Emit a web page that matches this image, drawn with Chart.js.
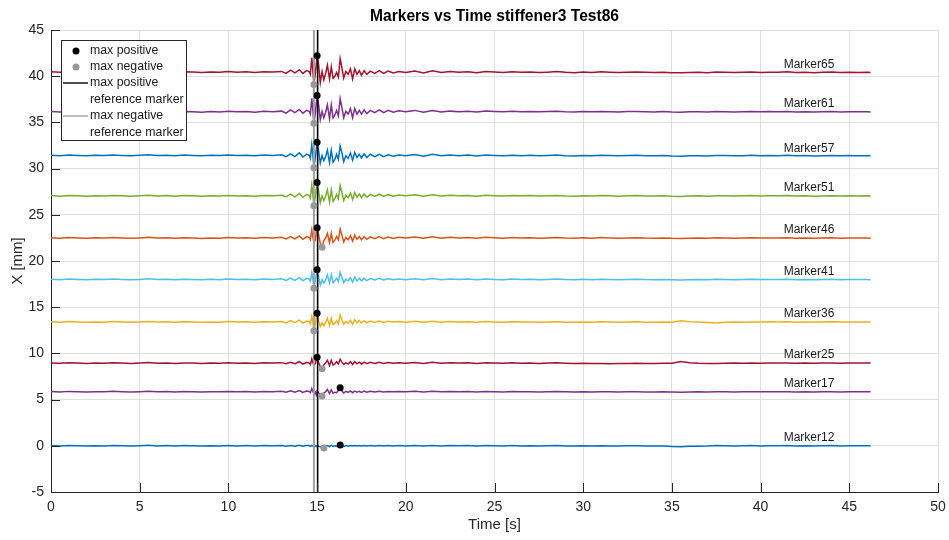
<!DOCTYPE html>
<html>
<head>
<meta charset="utf-8">
<title>Markers vs Time stiffener3 Test86</title>
<script src="https://cdn.jsdelivr.net/npm/chart.js@4.4.1/dist/chart.umd.min.js"></script>
<style>
  html, body { margin: 0; padding: 0; background: #fff; }
</style>
</head>
<body>
<canvas id="markerChart" width="949" height="540"></canvas>
<script>
// time axis (s), shared by every marker trace
const times = [
  0, 0.5, 1, 1.5, 2, 2.5, 3, 3.5, 4, 4.5, 5, 5.5, 6, 6.5,
  7, 7.5, 8, 8.5, 9, 9.5, 10, 10.5, 11, 11.5, 12, 12.5, 13,
  13.25, 13.5, 13.75, 14, 14.2, 14.4,
  14.55, 14.62, 14.7, 14.76, 14.82, 14.9, 14.95, 15.0, 15.08, 15.18,
  15.28, 15.38, 15.48, 15.58, 15.7, 15.8, 15.9, 16.0, 16.1, 16.2,
  16.3, 16.4, 16.5, 16.62, 16.75, 16.88, 17.0, 17.12, 17.25, 17.38,
  17.5, 17.65, 17.8, 18.0, 18.25, 18.5, 18.75, 19.0, 19.3, 19.6,
  20, 20.5, 21, 21.5, 22, 22.5, 23, 23.5, 24, 24.5, 25, 25.5, 26, 26.5,
  27, 27.5, 28, 28.5, 29, 29.5, 30, 30.5, 31, 31.5, 32, 32.5, 33, 33.5,
  34, 34.5, 35, 35.5, 36, 36.5, 37, 37.5, 38, 38.5, 39, 39.5, 40, 40.5,
  41, 41.5, 42, 42.5, 43, 43.5, 44, 44.5, 45, 45.5, 46, 46.2
];

// X displacement [mm] per marker
const marker65 = [
  40.48, 40.42, 40.5, 40.44, 40.4, 40.47, 40.43, 40.5, 40.45, 40.41, 40.46, 40.52, 40.44, 40.47,
  40.42, 40.48, 40.45, 40.4, 40.46, 40.43, 40.5, 40.44, 40.47, 40.41, 40.49, 40.45, 40.52,
  40.3, 40.65, 40.35, 40.7, 40.3, 40.6,
  40.5, 40.2, 42.0, 40.6, 39.1, 40.3, 41.2, 42.2, 41.3, 39.3,
  40.5, 39.6, 40.3, 41.2, 39.7, 41.0, 39.8, 40.0, 40.4, 39.9,
  41.9, 40.9, 39.8, 40.5, 40.2, 40.8, 39.7, 40.8, 40.2, 40.6,
  40.1, 40.6, 40.2, 40.55, 40.3, 40.6, 40.3, 40.55, 40.35, 40.5,
  40.4, 40.55, 40.35, 40.6, 40.4, 40.5, 40.42, 40.48, 40.38, 40.5, 40.45, 40.4, 40.48, 40.43,
  40.46, 40.4, 40.44, 40.5, 40.42, 40.38, 40.45, 40.41, 40.47, 40.43, 40.4, 40.44, 40.46, 40.42,
  40.4, 40.44, 40.38, 40.36, 40.4, 40.42, 40.38, 40.45, 40.43, 40.4, 40.42, 40.46, 40.41, 40.44,
  40.42, 40.47, 40.4, 40.43, 40.38, 40.42, 40.45, 40.4, 40.43, 40.41, 40.42, 40.4
];
const marker61 = [
  36.18, 36.12, 36.2, 36.15, 36.1, 36.17, 36.13, 36.2, 36.16, 36.11, 36.15, 36.21, 36.14, 36.18,
  36.12, 36.19, 36.15, 36.1, 36.17, 36.13, 36.2, 36.14, 36.18, 36.11, 36.2, 36.16, 36.22,
  36.0, 36.35, 36.05, 36.4, 36.0, 36.3,
  36.2, 35.9, 37.6, 36.3, 34.9, 36.0, 37.0, 37.9, 37.0, 35.3,
  36.2, 35.5, 36.1, 36.9, 35.4, 36.9, 35.5, 35.8, 36.3, 35.7,
  37.55, 36.6, 35.5, 36.2, 35.9, 36.5, 35.5, 36.5, 35.9, 36.3,
  35.9, 36.35, 35.95, 36.3, 36.05, 36.35, 36.05, 36.3, 36.1, 36.25,
  36.15, 36.3, 36.1, 36.28, 36.12, 36.22, 36.16, 36.2, 36.12, 36.24, 36.18, 36.14, 36.2, 36.16,
  36.18, 36.14, 36.17, 36.21, 36.15, 36.12, 36.18, 36.14, 36.19, 36.15, 36.13, 36.17, 36.19, 36.15,
  36.13, 36.17, 36.12, 36.1, 36.14, 36.16, 36.12, 36.18, 36.15, 36.13, 36.15, 36.19, 36.14, 36.17,
  36.15, 36.19, 36.13, 36.16, 36.12, 36.15, 36.18, 36.13, 36.16, 36.14, 36.15, 36.13
];
const marker57 = [
  31.45, 31.4, 31.48, 31.42, 31.38, 31.45, 31.41, 31.47, 31.43, 31.38, 31.44, 31.5, 31.41, 31.45,
  31.4, 31.46, 31.43, 31.38, 31.44, 31.41, 31.48, 31.42, 31.45, 31.39, 31.47, 31.43, 31.5,
  31.3, 31.6, 31.3, 31.7, 31.25, 31.55,
  31.45, 31.1, 32.55, 31.5, 30.1, 31.2, 32.0, 32.85, 32.0, 30.6,
  31.4, 30.85, 31.3, 32.0, 30.65, 32.0, 30.7, 31.0, 31.55, 31.0,
  32.45, 31.7, 30.75, 31.4, 31.1, 31.7, 30.9, 31.75, 31.2, 31.55,
  31.15, 31.6, 31.2, 31.55, 31.3, 31.55, 31.3, 31.5, 31.35, 31.48,
  31.38, 31.52, 31.35, 31.55, 31.38, 31.48, 31.4, 31.46, 31.36, 31.48, 31.42, 31.38, 31.45, 31.4,
  31.44, 31.38, 31.42, 31.47, 31.4, 31.36, 31.43, 31.39, 31.45, 31.41, 31.38, 31.42, 31.44, 31.4,
  31.38, 31.42, 31.36, 31.34, 31.38, 31.4, 31.37, 31.43, 31.41, 31.38, 31.4, 31.44, 31.39, 31.42,
  31.4, 31.44, 31.38, 31.41, 31.36, 31.4, 31.43, 31.38, 31.41, 31.39, 31.4, 31.38
];
const marker51 = [
  27.08, 27.02, 27.1, 27.05, 27.0, 27.07, 27.03, 27.1, 27.06, 27.01, 27.05, 27.11, 27.04, 27.08,
  27.02, 27.08, 27.05, 27.0, 27.06, 27.03, 27.1, 27.04, 27.07, 27.01, 27.09, 27.05, 27.12,
  26.95, 27.25, 26.95, 27.3, 26.9, 27.2,
  27.1, 26.8, 28.2, 27.2, 25.98, 26.9, 27.7, 28.5, 27.7, 26.3,
  27.05, 26.55, 27.0, 27.7, 26.4, 27.7, 26.45, 26.75, 27.2, 26.75,
  28.15, 27.4, 26.55, 27.1, 26.85, 27.35, 26.65, 27.4, 26.9, 27.25,
  26.85, 27.25, 26.9, 27.2, 27.0, 27.25, 26.98, 27.18, 27.02, 27.15,
  27.05, 27.16, 27.02, 27.18, 27.04, 27.12, 27.06, 27.1, 27.02, 27.12, 27.07, 27.03, 27.1, 27.05,
  27.08, 27.03, 27.06, 27.1, 27.04, 27.01, 27.07, 27.03, 27.08, 27.05, 27.02, 27.06, 27.08, 27.04,
  27.03, 27.06, 27.01, 26.99, 27.03, 27.05, 27.02, 27.07, 27.05, 27.03, 27.05, 27.08, 27.04, 27.06,
  27.05, 27.08, 27.03, 27.05, 27.01, 27.04, 27.07, 27.03, 27.05, 27.04, 27.05, 27.03
];
const marker46 = [
  22.52, 22.47, 22.54, 22.49, 22.45, 22.51, 22.48, 22.55, 22.5, 22.46, 22.5, 22.56, 22.48, 22.52,
  22.46, 22.52, 22.49, 22.44, 22.5, 22.47, 22.54, 22.48, 22.51, 22.45, 22.53, 22.49, 22.56,
  22.38, 22.65, 22.4, 22.7, 22.35, 22.62,
  22.55, 22.3, 23.35, 22.6, 21.95, 22.3, 23.1, 23.6, 22.9, 21.9,
  21.5, 22.2, 22.5, 23.0, 22.0, 23.0, 22.0, 22.25, 22.65, 22.3,
  23.46, 22.8, 22.05, 22.55, 22.3, 22.75, 22.15, 22.8, 22.35, 22.65,
  22.3, 22.65, 22.35, 22.62, 22.42, 22.65, 22.42, 22.6, 22.45, 22.58,
  22.48, 22.6, 22.45, 22.62, 22.47, 22.56, 22.5, 22.54, 22.46, 22.56, 22.51, 22.47, 22.54, 22.49,
  22.52, 22.47, 22.5, 22.55, 22.48, 22.45, 22.51, 22.47, 22.53, 22.49, 22.46, 22.5, 22.52, 22.48,
  22.47, 22.5, 22.45, 22.43, 22.47, 22.49, 22.46, 22.51, 22.49, 22.47, 22.49, 22.52, 22.48, 22.5,
  22.49, 22.52, 22.47, 22.5, 22.45, 22.48, 22.51, 22.47, 22.49, 22.48, 22.49, 22.47
];
const marker41 = [
  18.03, 17.98, 18.05, 18.0, 17.96, 18.02, 17.99, 18.06, 18.01, 17.97, 18.01, 18.07, 17.99, 18.03,
  17.98, 18.03, 18.0, 17.96, 18.02, 17.98, 18.05, 17.99, 18.02, 17.97, 18.04, 18.0, 18.07,
  17.9, 18.15, 17.9, 18.2, 17.85, 18.12,
  18.05, 17.8, 18.7, 18.1, 17.05, 17.85, 18.5, 19.06, 18.3, 17.4,
  17.95, 17.6, 17.95, 18.5, 17.6, 18.5, 17.65, 17.85, 18.15, 17.8,
  18.77, 18.25, 17.65, 18.05, 17.85, 18.2, 17.7, 18.25, 17.85, 18.15,
  17.85, 18.12, 17.88, 18.1, 17.95, 18.12, 17.95, 18.08, 17.98, 18.06,
  17.98, 18.08, 17.96, 18.1, 17.98, 18.05, 18.0, 18.04, 17.97, 18.05, 18.01, 17.98, 18.04, 18.0,
  18.02, 17.98, 18.01, 18.05, 17.99, 17.96, 18.02, 17.98, 18.03, 18.0, 17.97, 18.01, 18.03, 17.99,
  17.98, 18.01, 17.97, 17.95, 17.98, 18.0, 17.97, 18.02, 18.0, 17.98, 18.0, 18.03, 17.99, 18.01,
  18.0, 18.03, 17.98, 18.0, 17.96, 17.99, 18.02, 17.98, 18.0, 17.99, 18.0, 17.98
];
const marker36 = [
  13.42, 13.38, 13.44, 13.4, 13.36, 13.41, 13.38, 13.45, 13.4, 13.37, 13.41, 13.46, 13.39, 13.42,
  13.37, 13.42, 13.4, 13.36, 13.41, 13.38, 13.44, 13.39, 13.42, 13.37, 13.43, 13.4, 13.46,
  13.3, 13.55, 13.32, 13.6, 13.28, 13.5,
  13.45, 13.2, 14.0, 13.5, 12.46, 13.2, 13.85, 14.34, 13.6, 12.9,
  13.3, 13.0, 13.35, 13.8, 13.0, 13.8, 13.1, 13.25, 13.55, 13.2,
  14.15, 13.65, 13.15, 13.45, 13.25, 13.6, 13.15, 13.65, 13.3, 13.55,
  13.3, 13.52, 13.32, 13.5, 13.36, 13.5, 13.37, 13.47, 13.39, 13.46,
  13.38, 13.47, 13.36, 13.48, 13.38, 13.45, 13.4, 13.43, 13.37, 13.44, 13.4, 13.38, 13.43, 13.39,
  13.41, 13.37, 13.4, 13.43, 13.38, 13.36, 13.41, 13.38, 13.42, 13.39, 13.37, 13.4, 13.42, 13.38,
  13.37, 13.4, 13.38, 13.52, 13.42, 13.39, 13.35, 13.3, 13.37, 13.4, 13.38, 13.41, 13.39, 13.42,
  13.4, 13.42, 13.38, 13.41, 13.39, 13.4, 13.42, 13.39, 13.41, 13.4, 13.41, 13.4
];
const marker25 = [
  8.97, 8.93, 8.99, 8.95, 8.91, 8.96, 8.93, 9.0, 8.95, 8.92, 8.96, 9.01, 8.94, 8.97,
  8.92, 8.97, 8.95, 8.91, 8.96, 8.93, 8.99, 8.94, 8.97, 8.92, 8.98, 8.95, 9.0,
  8.88, 9.05, 8.88, 9.1, 8.85, 9.02,
  8.98, 8.8, 9.4, 9.0, 8.75, 8.9, 9.3, 9.58, 9.0, 8.6,
  8.34, 8.75, 8.95, 9.25, 8.7, 9.25, 8.75, 8.85, 9.1, 8.85,
  9.36, 9.05, 8.8, 9.0, 8.85, 9.1, 8.8, 9.1, 8.88, 9.05,
  8.85, 9.05, 8.88, 9.04, 8.9, 9.05, 8.92, 9.02, 8.93, 9.0,
  8.93, 9.02, 8.92, 9.03, 8.93, 8.99, 8.95, 8.98, 8.92, 8.99, 8.95, 8.93, 8.98, 8.94,
  8.96, 8.92, 8.95, 8.98, 8.93, 8.9, 8.94, 8.9, 8.92, 8.89, 8.9, 8.92, 8.94, 8.91,
  8.92, 8.94, 8.93, 9.12, 8.98, 8.93, 8.92, 8.9, 8.93, 8.95, 8.94, 8.96, 8.94, 8.97,
  8.95, 8.97, 8.94, 8.96, 8.93, 8.95, 8.97, 8.94, 8.96, 8.95, 8.96, 8.95
];
const marker17 = [
  5.87, 5.83, 5.89, 5.85, 5.82, 5.86, 5.84, 5.9, 5.86, 5.82, 5.86, 5.91, 5.84, 5.87,
  5.83, 5.88, 5.85, 5.82, 5.86, 5.84, 5.89, 5.85, 5.87, 5.83, 5.88, 5.85, 5.9,
  5.8, 5.95, 5.8, 5.98, 5.78, 5.92,
  5.88, 5.75, 6.2, 5.9, 5.6, 5.8, 5.5, 5.9, 5.75, 5.55,
  5.39, 5.7, 5.85, 6.1, 5.65, 6.05, 5.7, 5.8, 5.75, 6.0,
  6.29, 5.95, 5.7, 5.9, 5.78, 5.95, 5.75, 5.92, 5.8, 5.9,
  5.78, 5.92, 5.8, 5.9, 5.82, 5.9, 5.83, 5.88, 5.84, 5.88,
  5.84, 5.9, 5.83, 5.91, 5.84, 5.88, 5.85, 5.87, 5.83, 5.88, 5.85, 5.83, 5.87, 5.84,
  5.86, 5.83, 5.85, 5.88, 5.84, 5.81, 5.85, 5.82, 5.86, 5.84, 5.82, 5.85, 5.86, 5.83,
  5.83, 5.85, 5.82, 5.8, 5.83, 5.85, 5.83, 5.86, 5.84, 5.83, 5.84, 5.86, 5.84, 5.85,
  5.84, 5.86, 5.83, 5.85, 5.82, 5.84, 5.86, 5.83, 5.85, 5.84, 5.85, 5.84
];
const marker12 = [
  0.02, -0.02, 0.03, 0.0, -0.03, 0.01, -0.01, 0.04, 0.0, -0.03, 0.01, 0.05, -0.01, 0.02,
  -0.02, 0.02, 0.0, -0.03, 0.01, -0.01, 0.03, -0.01, 0.02, -0.03, 0.03, 0.0, 0.04,
  -0.05, 0.04, -0.04, 0.05, -0.05, 0.03,
  0.02, -0.06, 0.05, -0.02, -0.08, 0.0, -0.05, 0.03, -0.04, -0.1,
  -0.15, -0.25, -0.12, 0.02, -0.08, 0.04, -0.06, 0.0, -0.04, 0.03,
  0.08, -0.02, -0.06, 0.02, -0.04, 0.03, -0.03, 0.02, -0.02, 0.03,
  -0.03, 0.02, -0.02, 0.03, -0.01, 0.02, -0.02, 0.02, -0.01, 0.02,
  -0.01, 0.03, -0.02, 0.03, -0.01, 0.02, 0.0, 0.02, -0.02, 0.02, 0.0, -0.02, 0.02, -0.01,
  0.01, -0.02, 0.0, 0.02, -0.01, -0.03, 0.0, -0.02, 0.01, -0.01, -0.03, 0.0, 0.01, -0.02,
  -0.03, -0.01, -0.08, -0.1, -0.06, -0.04, -0.02, 0.03, 0.0, -0.02, 0.0, 0.02, -0.01, 0.01,
  0.0, 0.02, -0.01, 0.01, -0.02, 0.0, 0.02, -0.01, 0.01, 0.0, 0.01, 0.0
];

const markerNames = ["Marker12", "Marker17", "Marker25", "Marker36", "Marker41",
                     "Marker46", "Marker51", "Marker57", "Marker61", "Marker65"];

// max positive / max negative points, same order as markerNames
const maxPosTime = [16.3, 16.3, 15.0, 15.0, 15.0, 15.0, 15.0, 15.0, 15.0, 15.0];
const maxPosVal  = [0.08, 6.29, 9.58, 14.34, 19.06, 23.6, 28.5, 32.85, 37.9, 42.2];
const maxNegTime = [15.38, 15.28, 15.28, 14.82, 14.82, 15.28, 14.82, 14.82, 14.82, 14.82];
const maxNegVal  = [-0.25, 5.39, 8.34, 12.46, 17.05, 21.5, 25.98, 30.1, 34.9, 39.1];

// reference marker times (vertical lines)
const maxPosRefTime = 15.03;
const maxNegRefTime = 14.82;

// text labels next to the traces
const labelTime = 41.3;
const labelVal  = [0.9, 6.76, 9.85, 14.34, 18.84, 23.35, 27.9, 32.2, 37.07, 41.2];

const traces = [marker12, marker17, marker25, marker36, marker41,
                marker46, marker51, marker57, marker61, marker65];
const colors = ["#0072BD", "#7E2F8E", "#A2142F", "#EDB120", "#4DBEEE",
                "#D95319", "#77AC30", "#0072BD", "#7E2F8E", "#A2142F"];

const FONT = "'Liberation Sans', Arial, Helvetica, sans-serif";
const AXIS_COLOR = "#262626";

function toPoints(xs, ys) {
    return xs.map((x, i) => ({ x: x, y: ys[i] }));
}

const datasets = [];

datasets.push({
    label: "max positive",
    type: "scatter",
    data: toPoints(maxPosTime, maxPosVal),
    pointRadius: 3.5,
    pointBackgroundColor: "#000000",
    pointBorderWidth: 0,
    order: 0
});
datasets.push({
    label: "max negative",
    type: "scatter",
    data: toPoints(maxNegTime, maxNegVal),
    pointRadius: 3.5,
    pointBackgroundColor: "#999999",
    pointBorderWidth: 0,
    order: 0
});
datasets.push({
    label: "max positive reference marker",
    data: [{ x: maxPosRefTime, y: -5 }, { x: maxPosRefTime, y: 45 }],
    borderColor: "#000000",
    borderWidth: 1.6,
    pointRadius: 0,
    order: 1
});
datasets.push({
    label: "max negative reference marker",
    data: [{ x: maxNegRefTime, y: -5 }, { x: maxNegRefTime, y: 45 }],
    borderColor: "#a0a0a0",
    borderWidth: 2,
    pointRadius: 0,
    order: 1
});

traces.forEach((vals, i) => {
    datasets.push({
        label: markerNames[i],
        data: toPoints(times, vals),
        borderColor: colors[i],
        borderWidth: 1.5,
        pointRadius: 0,
        tension: 0,
        order: 2
    });
});

// title, legend box, trace labels and inward tick marks (MATLAB look)
const matlabDecor = {
    id: "matlabDecor",
    afterDraw(chart) {
        const ctx = chart.ctx;
        const xs = chart.scales.x;
        const ys = chart.scales.y;
        const area = chart.chartArea;

        ctx.save();

        // inward ticks
        ctx.strokeStyle = AXIS_COLOR;
        ctx.lineWidth = 1;
        ctx.beginPath();
        for (let v = 0; v <= 50; v += 5) {
            const px = Math.round(xs.getPixelForValue(v)) + 0.5;
            ctx.moveTo(px, area.bottom);
            ctx.lineTo(px, area.bottom - 9);
        }
        for (let v = -5; v <= 45; v += 5) {
            const py = Math.round(ys.getPixelForValue(v)) + 0.5;
            ctx.moveTo(area.left, py);
            ctx.lineTo(area.left + 9, py);
        }
        ctx.stroke();

        // title
        ctx.fillStyle = "#000000";
        ctx.font = "bold 15.6px " + FONT;
        ctx.textAlign = "center";
        ctx.textBaseline = "middle";
        ctx.fillText("Markers vs Time stiffener3 Test86", (area.left + area.right) / 2, 17);

        // trace labels
        ctx.font = "12px " + FONT;
        ctx.textAlign = "left";
        ctx.fillStyle = "#1a1a1a";
        markerNames.forEach((name, i) => {
            ctx.fillText(name, xs.getPixelForValue(labelTime), ys.getPixelForValue(labelVal[i]));
        });

        // legend
        const bx = 61.5, by = 40.5, bw = 125, bh = 100;
        ctx.fillStyle = "#ffffff";
        ctx.fillRect(bx, by, bw, bh);
        ctx.strokeStyle = AXIS_COLOR;
        ctx.lineWidth = 1;
        ctx.strokeRect(bx, by, bw, bh);

        const rows = [51, 67, 83, 100, 116, 133];
        const texts = ["max positive", "max negative", "max positive",
                       "reference marker", "max negative", "reference marker"];

        ctx.fillStyle = "#000000";
        ctx.beginPath();
        ctx.arc(76, rows[0], 3.5, 0, Math.PI * 2);
        ctx.fill();
        ctx.fillStyle = "#999999";
        ctx.beginPath();
        ctx.arc(76, rows[1], 3.5, 0, Math.PI * 2);
        ctx.fill();

        ctx.strokeStyle = "#000000";
        ctx.lineWidth = 1.4;
        ctx.beginPath();
        ctx.moveTo(63, rows[2]);
        ctx.lineTo(88, rows[2]);
        ctx.stroke();
        ctx.strokeStyle = "#a0a0a0";
        ctx.beginPath();
        ctx.moveTo(63, rows[4]);
        ctx.lineTo(88, rows[4]);
        ctx.stroke();

        ctx.fillStyle = "#1a1a1a";
        ctx.font = "12.3px " + FONT;
        texts.forEach((t, i) => ctx.fillText(t, 90, rows[i]));

        ctx.restore();
    }
};

const ctx = document.getElementById("markerChart").getContext("2d");
const markerChart = new Chart(ctx, {
    type: "line",
    data: { datasets: datasets },
    options: {
        responsive: false,
        animation: false,
        devicePixelRatio: 1,
        layout: { padding: { top: 30, right: 11, left: 0, bottom: 0 } },
        plugins: {
            legend: { display: false },
            tooltip: { enabled: false },
            title: { display: false }
        },
        scales: {
            x: {
                type: "linear",
                min: 0,
                max: 50,
                ticks: { stepSize: 5, color: AXIS_COLOR, font: { family: FONT, size: 14 }, padding: 7, maxRotation: 0 },
                grid: { color: "#dfdfdf", drawTicks: false },
                border: { color: AXIS_COLOR },
                title: { display: true, text: "Time [s]", color: AXIS_COLOR, font: { family: FONT, size: 15 }, padding: { top: 0, bottom: 6 } },
                afterFit(scale) {
                    scale.height = 48;
                    scale.paddingLeft = 0;
                    scale.paddingRight = 0;
                }
            },
            y: {
                type: "linear",
                min: -5,
                max: 45,
                ticks: { stepSize: 5, color: AXIS_COLOR, font: { family: FONT, size: 14 }, padding: 7 },
                grid: { color: "#dfdfdf", drawTicks: false },
                border: { color: AXIS_COLOR },
                title: { display: true, text: "X [mm]", color: AXIS_COLOR, font: { family: FONT, size: 15 }, padding: { top: 9, bottom: 0 } },
                afterFit(scale) {
                    scale.width = 51;
                    scale.paddingTop = 0;
                    scale.paddingBottom = 0;
                }
            }
        }
    },
    plugins: [matlabDecor]
});
</script>
</body>
</html>
